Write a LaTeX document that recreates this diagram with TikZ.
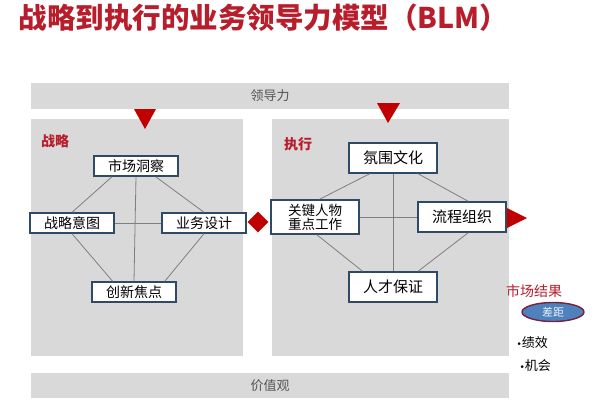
\documentclass[tikz,border=0pt]{standalone}
\usepackage{fontspec}
\setmainfont{Noto Sans CJK SC}
\newfontfamily\symfont{DejaVu Sans}
\usepackage{tikz}
\usetikzlibrary{calc, positioning, shapes.geometric}
\definecolor{TitleRed}{HTML}{B81D2B}
\definecolor{MarkRed}{HTML}{C00000}
\definecolor{PanelGray}{HTML}{D9D9D9}
\definecolor{BarText}{HTML}{555555}
\definecolor{BoxNavy}{HTML}{2F4A66}
\definecolor{LinkGray}{HTML}{7F7F7F}
\definecolor{GapBlue}{HTML}{4F81BD}
\definecolor{GapEdge}{HTML}{7A1F3D}

\begin{document}
\begin{tikzpicture}[x=1pt, y=-1pt,
      panel/.style={fill=PanelGray, draw=none},
      elem/.style={draw=BoxNavy, line width=1.4pt, fill=white, inner sep=0pt,
                   minimum width=84pt, minimum height=20pt, align=center,
                   font=\fontsize{14}{14}\selectfont},
      wide/.style={elem, minimum width=88pt, minimum height=30pt, font=\fontsize{15}{15}\selectfont},
      link/.style={draw=LinkGray, line width=0.8pt},
      tag/.style={text=TitleRed, font=\bfseries\fontsize{14}{14}\selectfont},
      point/.style={anchor=west, font=\fontsize{13}{13}\selectfont}]
      \useasboundingbox (0,0) rectangle (600,400);

      % Title
      \node[text=TitleRed, font=\bfseries\fontsize{28.5}{28.5}\selectfont, anchor=west] (title) at (15,18) {战略到执行的业务领导力模型（BLM）};

      % Bars and panels
      \fill[panel] (31,83) rectangle (509,109);
      \fill[panel] (31,119) rectangle (243,356);
      \fill[panel] (272,119) rectangle (509,356);
      \fill[panel] (31,373) rectangle (509,398);
      \node[text=BarText, font=\fontsize{13}{13}\selectfont] (lead) at (270,96) {领导力};
      \node[text=BarText, font=\fontsize{13}{13}\selectfont] (value) at (270,386) {价值观};

      % Red markers
      \fill[MarkRed] (134,109) -- (156,109) -- (145,129) -- cycle;
      \fill[MarkRed] (377,103) -- (400,103) -- (388,123) -- cycle;
      \fill[MarkRed] (507,208) -- (527,218) -- (507,228) -- cycle;
      \node[diamond, fill=MarkRed, inner sep=0pt, minimum size=21pt] (join) at (258,222) {};

      % Strategy
      \node[tag] (strat) at (55,141) {战略};
      \node[elem] (insight) at (136,166) {市场洞察};
      \node[elem] (intent)  at (72,223)  {战略意图};
      \node[elem] (design)  at (204,223) {业务设计};
      \node[elem] (innov)   at (134,292) {创新焦点};

      \draw[link] ($(insight.south west)!0.22!(insight.south east)$) -- ($(intent.north west)!0.5!(intent.north east)$);
      \draw[link] ($(insight.south west)!0.73!(insight.south east)$) -- ($(design.north west)!0.5!(design.north east)$);
      \draw[link] (insight.south) -- (innov.north);
      \draw[link] (intent.east) -- (design.west);
      \draw[link] (intent.south) -- ($(innov.north west)!0.25!(innov.north east)$);
      \draw[link] (design.south) -- ($(innov.north west)!0.86!(innov.north east)$);

      % Execution
      \node[tag] (exec) at (298,144) {执行};
      \node[wide] (climate) at (393,158) {氛围文化};
      \node[wide, minimum height=34pt, font=\fontsize{13.5}{14}\selectfont] (key) at (315,217) {关键人物\\重点工作};
      \node[wide] (process) at (462,217) {流程组织};
      \node[wide] (talent)  at (393,287) {人才保证};

      \draw[link] ($(climate.south west)!0.24!(climate.south east)$) -- ($(key.north west)!0.55!(key.north east)$);
      \draw[link] ($(climate.south west)!0.78!(climate.south east)$) -- ($(process.north west)!0.57!(process.north east)$);
      \draw[link] (climate.south) -- (talent.north);
      \draw[link] (key.east) -- (process.west);
      \draw[link] ($(key.south west)!0.52!(key.south east)$) -- ($(talent.north west)!0.16!(talent.north east)$);
      \draw[link] ($(process.south west)!0.57!(process.south east)$) -- ($(talent.north west)!0.78!(talent.north east)$);

      % Market result
      \node[text=TitleRed, font=\fontsize{14}{14}\selectfont] (result) at (534,291) {市场结果};
      \node[ellipse, fill=GapBlue, draw=GapEdge, line width=1.4pt, minimum width=62pt, minimum height=19pt,
            inner sep=0pt, text=white!90!GapBlue, font=\fontsize{11}{11}\selectfont] (gap) at (553,312) {差距};
      \node[point] (perf) at (513,343) {{\symfont\fontsize{9}{9}\selectfont •}绩效};
      \node[point] (chance) at (516,366) {{\symfont\fontsize{9}{9}\selectfont •}机会};
    \end{tikzpicture}
\end{document}
